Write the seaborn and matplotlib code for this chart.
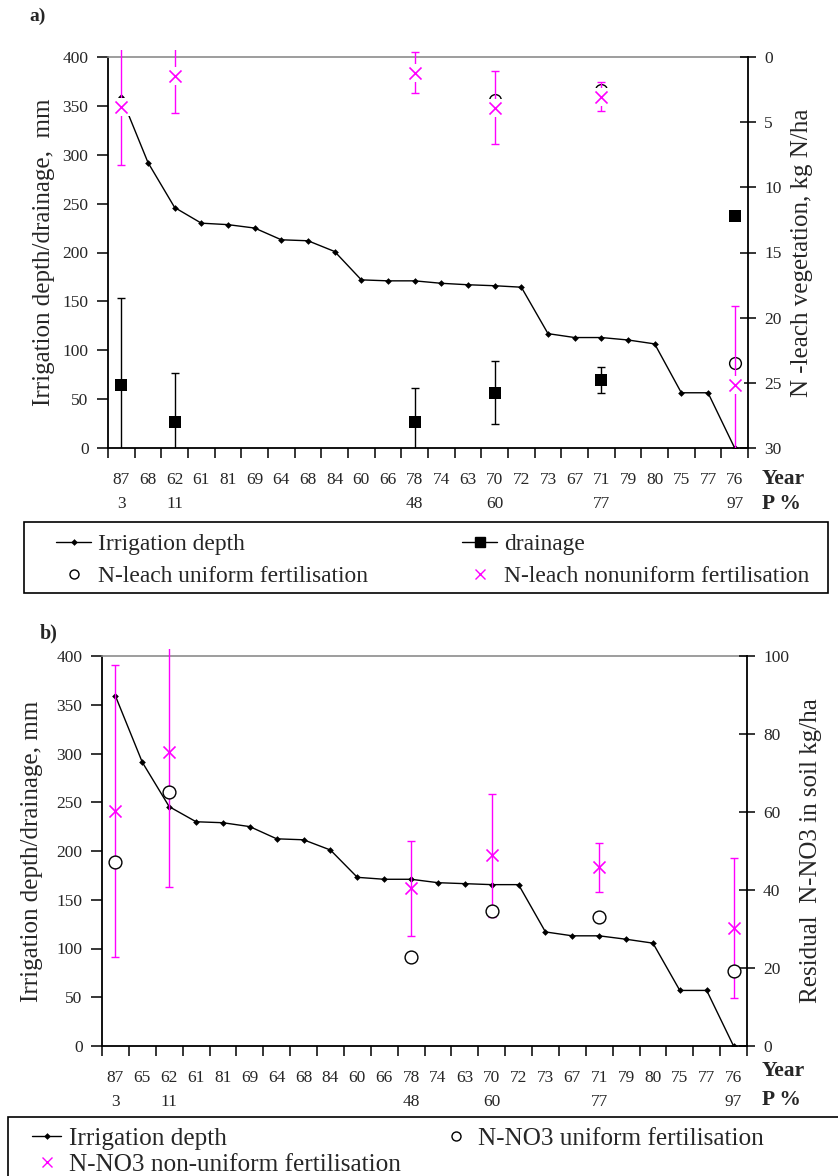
import numpy as np
import pandas as pd
import matplotlib
matplotlib.use("Agg")
import matplotlib.pyplot as plt
import seaborn as sns
from matplotlib.transforms import Bbox, TransformedBbox
from matplotlib.lines import Line2D
from matplotlib.patches import Rectangle

# ---------------- data ----------------
years_a = ["87", "68", "62", "61", "81", "69", "64", "68", "84", "60", "66", "78",
           "74", "63", "70", "72", "73", "67", "71", "79", "80", "75", "77", "76"]
years_b = ["87", "65", "62", "61", "81", "69", "64", "68", "84", "60", "66", "78",
           "74", "63", "70", "72", "73", "67", "71", "79", "80", "75", "77", "76"]
p_pct = ["3", "", "11", "", "", "", "", "", "", "", "", "48",
         "", "", "60", "", "", "", "77", "", "", "", "", "97"]

irrigation_a = [359, 292, 246, 230, 228.5, 225, 213, 212, 201, 172, 171, 171,
                168.5, 167, 166, 164.5, 117, 113, 113, 110.5, 106.5, 56.5, 56.5, 0]
irrigation_b = [359, 291, 245.5, 230, 229, 225, 212.5, 211.5, 201, 173, 171, 171,
                167.5, 166.5, 165.5, 165.5, 117, 113, 113, 109.5, 105.5, 57, 57, 0]

# positions (category index) of the simulated years
sel_idx = [0, 2, 11, 14, 18, 23]

drainage = [64.5, 26.5, 26.5, 56.5, 69.5, 237]
drainage_err = [89, 50, 34.5, 32, 13.5, 0]

nleach_uniform = [3.8, 1.45, 1.2, 3.3, 2.5, 23.5]
nleach_nonuniform = [3.8, 1.45, 1.2, 3.9, 3.05, 25.2]
nleach_nonuniform_err = [4.5, 2.85, 1.55, 2.8, 1.1, 6.1]

nno3_uniform = [47.1, 65.2, 22.7, 34.6, 33.1, 19.2]
nno3_nonuniform = [60.2, 75.4, 40.4, 48.9, 45.8, 30.2]
nno3_nonuniform_err = [37.4, 34.6, 12.2, 15.7, 6.3, 18.0]

# ---------------- style ----------------
sns.set_style("white")
plt.rcParams['font.family'] = ['Liberation Serif', 'DejaVu Serif']

MAG = '#FF00FF'
W, H = 838, 1176
fig = plt.figure(figsize=(W / 100, H / 100), dpi=100)


def fbox(x0, y0, x1, y1):
    """pixel box (top-left origin) -> figure fraction rect"""
    return [x0 / W, 1 - y1 / H, (x1 - x0) / W, (y1 - y0) / H]


def style_axes(ax, axr, years):
    n = len(years)
    ax.set_xlim(-0.5, n - 0.5)
    ax.set_xticks(range(n))
    ax.set_xticklabels([f"{y}\n{p}" for y, p in zip(years, p_pct)])
    for lbl in ax.get_xticklabels():
        lbl.set_linespacing(1.7)
    ax.set_xticks(np.arange(-0.5, n, 1), minor=True)
    ax.tick_params(axis='x', which='major', length=0, pad=17, labelsize=12.5)
    ax.tick_params(axis='x', which='minor', length=7, width=1.1, direction='out',
                   color='black', bottom=True)
    ax.set_ylim(0, 400)
    ax.set_yticks(range(0, 401, 50))
    ax.tick_params(axis='y', which='major', length=8, width=1.1, direction='out',
                   pad=6, labelsize=12.5, left=True, color='black')
    axr.tick_params(axis='y', which='major', length=11, width=1.1, direction='inout',
                    pad=6, labelsize=12.5, right=True, color='black')
    for s in ['left', 'bottom']:
        ax.spines[s].set_color('black')
        ax.spines[s].set_linewidth(1.3)
    ax.spines['right'].set_visible(False)
    ax.spines['top'].set_color('#8c8c8c')
    ax.spines['top'].set_linewidth(1.2)
    for s in ['left', 'bottom', 'top']:
        axr.spines[s].set_visible(False)
    axr.spines['right'].set_color('black')
    axr.spines['right'].set_linewidth(1.3)


def clip_ext(container, ax, top):
    cb = TransformedBbox(Bbox([[0, -0.001], [1, top]]), ax.transAxes)
    for art in list(container[1]) + list(container[2]):
        art.set_clip_box(cb)


# ======================= panel a =======================
ax = fig.add_axes(fbox(108, 57, 748, 448))
axr = ax.twinx()

df_a = pd.DataFrame({'pos': range(len(years_a)), 'irr': irrigation_a})
sns.lineplot(data=df_a, x='pos', y='irr', ax=ax, color='black', lw=1.0,
             marker='D', markersize=3.4, markeredgewidth=0, zorder=3)

ec = ax.errorbar(sel_idx, drainage, yerr=drainage_err, fmt='none', ecolor='black',
                 elinewidth=1.0, capsize=2.8, capthick=1.0, zorder=3)
clip_ext(ec, ax, 1.0)
df_dr = pd.DataFrame({'pos': sel_idx, 'dr': drainage})
sns.scatterplot(data=df_dr, x='pos', y='dr', ax=ax, marker='s', s=64,
                color='black', linewidth=0, zorder=4)

df_n = pd.DataFrame({'pos': sel_idx, 'uni': nleach_uniform, 'non': nleach_nonuniform})
sns.scatterplot(data=df_n, x='pos', y='uni', ax=axr, marker='o', s=72,
                color='white', edgecolor='black', linewidth=1.0, zorder=3)
ec = axr.errorbar(sel_idx, nleach_nonuniform, yerr=nleach_nonuniform_err, fmt='none',
                  ecolor=MAG, elinewidth=1.0, capsize=2.8, capthick=1.0, zorder=3)
clip_ext(ec, axr, 1.018)
sns.scatterplot(data=df_n, x='pos', y='non', ax=axr, marker='s', s=170,
                color='white', linewidth=0, zorder=4)
sns.scatterplot(data=df_n, x='pos', y='non', ax=axr, marker='x', s=75,
                color=MAG, linewidth=1.2, zorder=5)

axr.set_ylim(30, 0)
axr.set_yticks(range(0, 31, 5))
style_axes(ax, axr, years_a)

ax.set_xlabel('')
ax.set_ylabel('Irrigation depth/drainage,  mm', fontsize=18)
ax.yaxis.set_label_coords(-0.083, 0.5)
axr.set_ylabel('N -leach vegetation, kg N/ha', fontsize=18)
axr.yaxis.set_label_coords(1.067, 0.5)

fig.text(29 / W, 1 - 16 / H, 'a)', fontsize=14, fontweight='bold', va='center', ha='left')
fig.text(762 / W, 1 - 479 / H, 'Year', fontsize=15.5, fontweight='bold', va='center', ha='left')
fig.text(762 / W, 1 - 504 / H, 'P %', fontsize=15.5, fontweight='bold', va='center', ha='left')

# legend a
h_irr = Line2D([], [], color='black', lw=1.0, marker='D', markersize=3.4, markeredgewidth=0)
h_dr = Line2D([], [], color='black', lw=1.0, marker='s', markersize=6.5)
h_uni = Line2D([], [], ls='none', marker='o', mfc='white', mec='black', mew=1.0, markersize=6.5)
h_non = Line2D([], [], ls='none', marker='x', color=MAG, mew=1.0, markersize=6.5)
fig.add_artist(Rectangle((24 / W, 1 - 593 / H), (828 - 24) / W, (593 - 522) / H,
                         transform=fig.transFigure, fill=False, edgecolor='black', lw=1.2))
fig.legend([h_irr, h_uni, h_dr, h_non],
           ['Irrigation depth', 'N-leach uniform fertilisation', 'drainage',
            'N-leach nonuniform fertilisation'],
           ncol=2, loc='upper left', bbox_to_anchor=(56 / W, 1 - 534 / H),
           frameon=False, borderpad=0, borderaxespad=0, fontsize=16.9,
           handlelength=1.5, handletextpad=0.3, columnspacing=4.0, labelspacing=0.42)

# ======================= panel b =======================
bx = fig.add_axes(fbox(102, 656, 747, 1046))
bxr = bx.twinx()

df_b = pd.DataFrame({'pos': range(len(years_b)), 'irr': irrigation_b})
sns.lineplot(data=df_b, x='pos', y='irr', ax=bx, color='black', lw=1.0,
             marker='D', markersize=3.4, markeredgewidth=0, zorder=3)

df_m = pd.DataFrame({'pos': sel_idx, 'uni': nno3_uniform, 'non': nno3_nonuniform})
ec = bxr.errorbar(sel_idx, nno3_nonuniform, yerr=nno3_nonuniform_err, fmt='none',
                  ecolor=MAG, elinewidth=1.0, capsize=2.8, capthick=1.0, zorder=3)
clip_ext(ec, bxr, 1.018)
sns.scatterplot(data=df_m, x='pos', y='uni', ax=bxr, marker='o', s=85,
                color='white', edgecolor='black', linewidth=1.0, zorder=4)
sns.scatterplot(data=df_m, x='pos', y='non', ax=bxr, marker='x', s=75,
                color=MAG, linewidth=1.2, zorder=5)

bxr.set_ylim(0, 100)
bxr.set_yticks(range(0, 101, 20))
style_axes(bx, bxr, years_b)

bx.set_xlabel('')
bx.set_ylabel('Irrigation depth/drainage, mm', fontsize=18)
bx.yaxis.set_label_coords(-0.0915, 0.5)
bxr.set_ylabel('Residual  N-NO3 in soil kg/ha', fontsize=18)
bxr.yaxis.set_label_coords(1.082, 0.5)

fig.text(40 / W, 1 - 633 / H, 'b)', fontsize=14.5, fontweight='bold', va='center', ha='left')
fig.text(762 / W, 1 - 1071 / H, 'Year', fontsize=15.5, fontweight='bold', va='center', ha='left')
fig.text(762 / W, 1 - 1100 / H, 'P %', fontsize=15.5, fontweight='bold', va='center', ha='left')

# legend b
fig.add_artist(Rectangle((8 / W, 1 - 1200 / H), (860 - 8) / W, (1200 - 1117) / H,
                         transform=fig.transFigure, fill=False, edgecolor='black', lw=1.2,
                         clip_on=False))
fig.legend([h_irr, h_non, h_uni],
           ['Irrigation depth', 'N-NO3 non-uniform fertilisation', 'N-NO3 uniform fertilisation'],
           ncol=2, loc='upper left', bbox_to_anchor=(32 / W, 1 - 1127 / H),
           frameon=False, borderpad=0, borderaxespad=0, fontsize=18.2,
           handlelength=1.15, handletextpad=0.3, columnspacing=1.6, labelspacing=0.15)

fig.savefig('out.png', dpi=100)
